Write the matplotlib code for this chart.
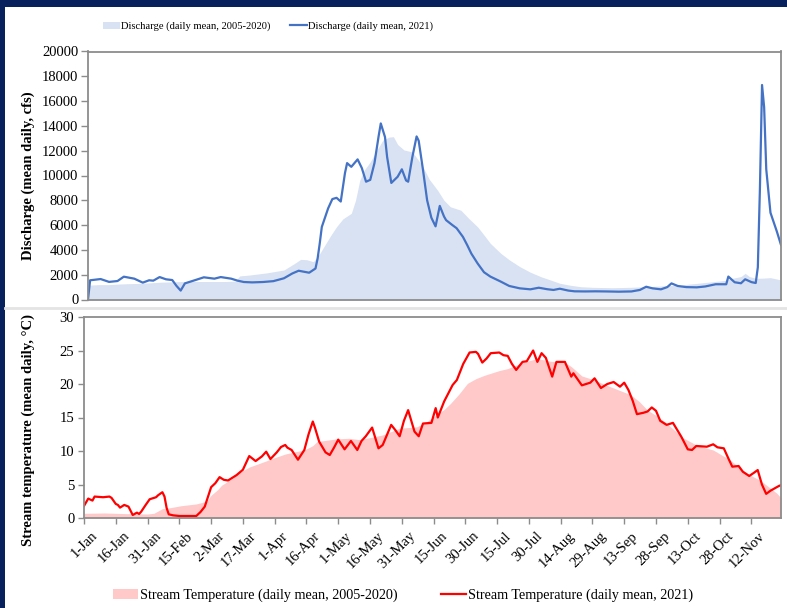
import matplotlib
matplotlib.use("Agg")
import matplotlib.pyplot as plt
from matplotlib.patches import Rectangle
from matplotlib.lines import Line2D
from matplotlib.transforms import ScaledTranslation

plt.rcParams['font.family'] = ['Liberation Serif', 'DejaVu Serif']

# discharge 2021 (day of year from 1-Jan, cfs)
q21_day = [0, 1, 6, 10, 14, 17, 22, 26, 29, 31, 34, 37, 40, 42, 44, 46, 51, 55, 60, 63,
           68, 71, 74, 78, 83, 88, 93, 97, 100, 105, 108, 109, 110, 111, 114, 116, 118, 120,
           122, 123, 125, 128, 130, 132, 134, 136, 138, 139, 141, 142, 144, 147, 149, 151,
           152, 154, 156, 157, 159, 161, 163, 165, 167, 169, 170, 173, 175, 178, 180, 182,
           185, 188, 191, 196, 200, 205, 210, 214, 218, 221, 224, 228, 231, 236, 241, 246,
           252, 258, 262, 265, 268, 272, 275, 277, 280, 284, 289, 293, 298, 303, 304, 307,
           310, 312, 315, 317, 318, 319, 320, 321, 322, 324, 326, 327, 329]
q21 = [0, 1550, 1650, 1420, 1490, 1840, 1680, 1360, 1550, 1520, 1810, 1630, 1570, 1100,
       720, 1300, 1570, 1790, 1680, 1810, 1680, 1520, 1410, 1380, 1410, 1480, 1710, 2100,
       2320, 2160, 2500, 3300, 4500, 5850, 7350, 8100, 8200, 7900, 10200, 11000, 10700,
       11300, 10600, 9500, 9650, 11000, 13200, 14200, 13100, 11500, 9400, 9900, 10500,
       9600, 9500, 11500, 13150, 12800, 10500, 8000, 6600, 5900, 7550, 6700, 6400, 6000,
       5750, 5050, 4400, 3700, 2900, 2200, 1850, 1440, 1090, 900, 820, 950, 830, 770, 870,
       720, 660, 650, 660, 650, 630, 650, 770, 1030, 900, 820, 1000, 1300, 1090, 1000, 980,
       1050, 1230, 1230, 1850, 1390, 1310, 1630, 1400, 1330, 2600, 9000, 17300, 15500,
       10500, 7000, 6000, 5500, 4400]

# discharge daily mean 2005-2020
qh_day = [0, 5, 10, 15, 20, 25, 30, 35, 40, 45, 50, 55, 60, 65, 70, 72, 77, 85, 93, 98,
          101, 104, 107, 110, 112, 115, 118, 121, 125, 127, 129, 131, 134, 137, 140, 143,
          145, 147, 150, 154, 157, 159, 162, 166, 169, 172, 177, 181, 185, 188, 191, 196,
          200, 205, 210, 215, 220, 224, 229, 234, 240, 249, 257, 265, 273, 281, 289, 297,
          303, 306, 310, 312, 314, 317, 320, 324, 327, 329]
qh = [1150, 1200, 1200, 1250, 1280, 1300, 1350, 1400, 1420, 1450, 1450, 1450, 1450, 1450,
      1480, 1900, 1980, 2150, 2380, 2900, 3240, 3200, 3050, 3700, 4260, 5100, 5870, 6500,
      6950, 8000, 9600, 10400, 11100, 12000, 12860, 13100, 13130, 12500, 12060, 11900,
      11200, 10700, 9700, 8800, 8000, 7480, 7200, 6500, 5850, 5200, 4530, 3720, 3200, 2650,
      2200, 1840, 1550, 1310, 1150, 1030, 980, 950, 980, 1030, 1100, 1170, 1300, 1440,
      1550, 1710, 1850, 2110, 1850, 1710, 1720, 1760, 1650, 1570]

# stream temperature 2021 (deg C)
t21_day = [0, 2, 4, 5, 9, 12, 13, 15, 16, 17, 19, 21, 23, 25, 26, 27, 29, 31, 34, 35, 37,
           38, 39, 40, 42, 45, 53, 55, 57, 60, 62, 64, 66, 68, 70, 72, 75, 78, 81, 84, 86,
           88, 91, 93, 95, 96, 98, 101, 104, 106, 108, 109, 111, 114, 116, 118, 120, 123,
           126, 129, 131, 133, 136, 139, 141, 145, 147, 149, 151, 153, 156, 158, 160, 164,
           166, 167, 170, 174, 176, 179, 182, 185, 186, 188, 190, 192, 196, 198, 200, 202,
           204, 207, 209, 212, 214, 216, 218, 221, 223, 225, 227, 230, 231, 235, 239, 241,
           244, 247, 250, 253, 255, 257, 259, 261, 264, 266, 268, 270, 272, 275, 278, 282,
           285, 287, 289, 294, 297, 299, 302, 304, 306, 309, 311, 314, 316, 318, 320, 322,
           324, 328, 329]
t21 = [1.8, 2.9, 2.6, 3.2, 3.1, 3.2, 3.0, 2.1, 1.95, 1.55, 1.95, 1.7, 0.45, 0.8, 0.6, 0.95,
       1.9, 2.8, 3.1, 3.4, 3.85, 3.2, 1.5, 0.55, 0.4, 0.3, 0.3, 0.9, 1.7, 4.6, 5.2, 6.1, 5.7,
       5.6, 6.0, 6.4, 7.2, 9.25, 8.5, 9.2, 9.9, 8.8, 9.8, 10.6, 10.9, 10.5, 10.15, 8.7,
       10.15, 12.5, 14.4, 13.5, 11.4, 9.8, 9.4, 10.5, 11.7, 10.25, 11.5, 10.15, 11.5, 12.2,
       13.5, 10.4, 10.9, 13.9, 13.1, 12.2, 14.5, 16.1, 12.9, 12.2, 14.1, 14.2, 16.4, 15.0,
       17.4, 19.85, 20.6, 23.0, 24.7, 24.8, 24.5, 23.2, 23.8, 24.6, 24.7, 24.3, 24.2, 23.0,
       22.1, 23.3, 23.4, 25.0, 23.3, 24.6, 23.9, 21.1, 23.3, 23.3, 23.3, 21.1, 21.6, 19.8,
       20.2, 20.85, 19.4, 20.0, 20.3, 19.6, 20.2, 19.1, 17.5, 15.5, 15.7, 15.9, 16.5, 16.0,
       14.5, 13.9, 14.2, 12.1, 10.25, 10.15, 10.75, 10.64, 11.0, 10.55, 10.4, 9.0, 7.66,
       7.76, 6.9, 6.27, 6.7, 7.16, 5.0, 3.6, 4.07, 4.78, 4.9]

# stream temperature daily mean 2005-2020
th_day = [0, 10, 20, 30, 33, 37, 40, 46, 53, 58, 60, 63, 65, 70, 73, 78, 85, 90, 95, 100,
          104, 108, 110, 119, 125, 130, 135, 141, 149, 157, 161, 165, 170, 173, 177, 181,
          185, 189, 196, 200, 208, 214, 220, 225, 228, 230, 235, 240, 246, 250, 258, 262,
          266, 270, 274, 278, 282, 289, 293, 297, 301, 305, 309, 313, 318, 321, 327, 329]
th = [0.7, 0.75, 0.65, 0.6, 0.7, 1.4, 1.5, 1.84, 2.1, 2.5, 3.4, 4.2, 4.9, 5.9, 6.7, 7.6, 8.4,
      9.0, 9.55, 9.9, 10.15, 10.8, 11.4, 11.8, 11.9, 11.7, 12.0, 12.4, 13.4, 13.6, 14.2,
      15.1, 16.2, 17.1, 18.5, 20.1, 20.8, 21.3, 22.0, 22.3, 23.3, 23.8, 23.4, 23.3, 23.0,
      22.6, 21.2, 20.7, 19.9, 19.4, 18.4, 17.4, 16.1, 15.3, 14.4, 13.3, 12.1, 10.9, 10.5,
      10.15, 9.4, 8.66, 7.6, 6.67, 5.8, 5.18, 3.7, 3.0]

tick_days = list(range(0, 316, 15))
tick_labels = ['1-Jan', '16-Jan', '31-Jan', '15-Feb', '2-Mar', '17-Mar', '1-Apr', '16-Apr',
               '1-May', '16-May', '31-May', '15-Jun', '30-Jun', '15-Jul', '30-Jul', '14-Aug',
               '29-Aug', '13-Sep', '28-Sep', '13-Oct', '28-Oct', '12-Nov']

W, H = 787, 608
navy = '#06215c'
spine_c = '#8c8c8c'

fig = plt.figure(figsize=(W / 100, H / 100), dpi=100, facecolor=navy)
fig.patches.append(Rectangle((5 / W, 0), 1, 1 - 7 / H, transform=fig.transFigure,
                             facecolor='white', edgecolor='none', zorder=-2))
fig.lines.append(Line2D([5 / W, 1], [1 - 307.5 / H] * 2, transform=fig.transFigure,
                        color='#e4e4e4', lw=2, zorder=-1))

def px_axes(l, t, r, b):
    return fig.add_axes([l / W, 1 - b / H, (r - l) / W, (b - t) / H])

# discharge panel
ax1 = px_axes(88, 51.5, 781, 299.5)
ax1.fill_between(qh_day, qh, color='#d9e2f3', lw=0,
                 label='Discharge (daily mean, 2005-2020)')
ax1.plot(q21_day, q21, color='#4472c4', lw=1.6, label='Discharge (daily mean, 2021)')
ax1.set_xlim(0, 329)
ax1.set_ylim(0, 20000)
ax1.set_yticks(range(0, 20001, 2000))
ax1.set_xticks([])
ax1.set_ylabel('Discharge (mean daily, cfs)', fontsize=10.5, fontweight='bold')
ax1.yaxis.set_label_coords((35 - 88) / 693, 0.5)
ax1.tick_params(axis='y', labelsize=10.5, length=5, width=1, color=spine_c, pad=2)
for s in ax1.spines.values():
    s.set_color(spine_c)
    s.set_linewidth(1.3)
fig.legend(*ax1.get_legend_handles_labels(), loc='center',
           bbox_to_anchor=(268 / W, 1 - 26.5 / H), ncol=2, frameon=False, fontsize=7.6,
           handlelength=1.6, handletextpad=0.1, columnspacing=1.8)

# temperature panel
ax2 = px_axes(84, 317, 781, 518)
ax2.fill_between(th_day, th, color='#ffc9c9', lw=0,
                 label='Stream Temperature (daily mean, 2005-2020)')
ax2.plot(t21_day, t21, color='#ff0000', lw=1.6, label='Stream Temperature (daily mean, 2021)')
ax2.set_xlim(0, 329)
ax2.set_ylim(0, 30)
ax2.set_yticks(range(0, 31, 5))
ax2.set_xticks(tick_days)
ax2.set_xticklabels(tick_labels, rotation=45, ha='right', va='top', rotation_mode='anchor')
ax2.set_ylabel('Stream temperature (mean daily, \u00b0C)', fontsize=10.5, fontweight='bold')
ax2.yaxis.set_label_coords((35 - 84) / 697, (518 - 430) / 201)
ax2.tick_params(axis='y', labelsize=10.5, length=4, width=1, color=spine_c, pad=3)
ax2.tick_params(axis='x', labelsize=10.5, length=4, width=1, color=spine_c, pad=4)
for lab in ax2.get_xticklabels():
    lab.set_transform(lab.get_transform() + ScaledTranslation(5 / 72, 0, fig.dpi_scale_trans))
for s in ax2.spines.values():
    s.set_color(spine_c)
    s.set_linewidth(1.3)
fig.legend(*ax2.get_legend_handles_labels(), loc='center',
           bbox_to_anchor=(403 / W, 1 - 595.5 / H), ncol=2, frameon=False, fontsize=10.2,
           handlelength=1.8, handletextpad=0.15, columnspacing=3.0)

fig.savefig('out.png', dpi=100, facecolor=navy)
